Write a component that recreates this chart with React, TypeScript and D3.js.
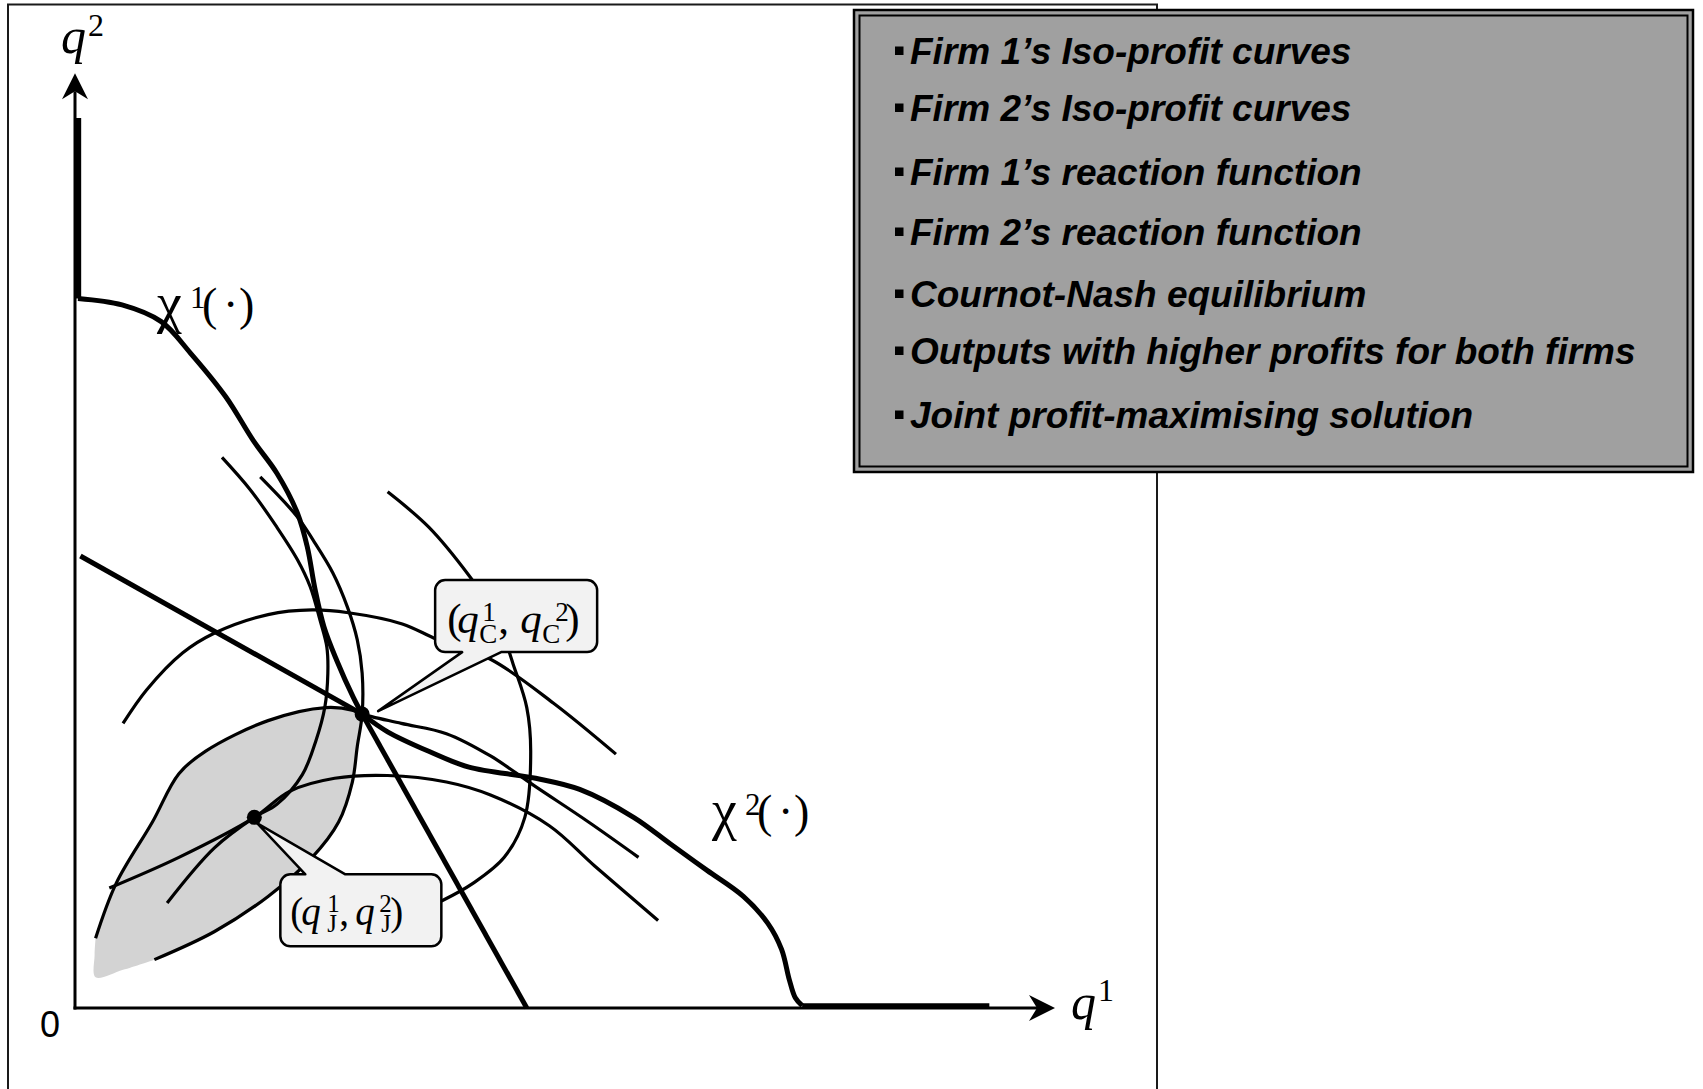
import React from 'react';
import * as d3 from 'd3';

type Pt = [number, number];

// Output space: q1 (horizontal) and q2 (vertical), both on a 0–100 scale.
const reaction1Axis: Pt[] = [[0.35, 95.7], [0.35, 76.3]];
const reaction1Curve: Pt[] = [
  [0.3, 76.3], [4.8, 75.6], [8.8, 73.8], [11.8, 70.4], [15.4, 65.7], [18.2, 61.0],
  [20.6, 57.5], [22.7, 53.2], [23.7, 49.6], [24.5, 45.0], [25.4, 41.0], [26.7, 37.4],
  [28.4, 33.4], [29.3, 31.6],
];
const reaction1Line: Pt[] = [[29.3, 31.6], [46.1, 0]];

const reaction2Line: Pt[] = [[0.55, 48.6], [29.3, 31.6]];
const reaction2Curve: Pt[] = [
  [29.3, 31.6], [31.9, 29.7], [36.1, 27.6], [40.2, 25.9], [47.0, 24.7], [51.5, 23.5],
  [57.0, 20.5], [60.8, 17.6], [64.5, 14.8], [68.2, 12.0], [70.7, 9.1], [72.1, 6.3],
  [72.9, 3.0], [73.5, 1.1], [74.2, 0.25],
];
const reaction2Axis: Pt[] = [[74.2, 0.25], [93.3, 0.25]];

// Firm 1's iso-profit curves (hump shaped)
const firm1IsoLow: Pt[] = [
  [4.9, 30.6], [7.3, 34.2], [11.0, 38.2], [14.2, 40.3], [19.7, 42.3], [24.2, 42.8],
  [27.9, 42.5], [33.4, 41.3], [37.0, 39.6], [42.4, 37.5], [48.8, 32.8], [55.2, 27.3],
];
const firm1IsoC: Pt[] = [
  [2.1, 7.5], [4.2, 13.4], [7.9, 20.0], [10.6, 25.2], [13.3, 27.6], [19.7, 30.9],
  [25.6, 32.3], [28.4, 32.0], [29.3, 31.6], [33.3, 30.6], [37.9, 29.5], [42.4, 27.1],
  [47.0, 23.8], [52.4, 20.0], [57.5, 16.2],
];
const firm1IsoJ: Pt[] = [
  [3.5, 12.9], [10.6, 16.2], [18.3, 20.5], [21.9, 23.3], [26.5, 24.7], [31.9, 25.0],
  [37.9, 24.3], [42.4, 22.9], [48.4, 19.6], [53.0, 15.3], [59.5, 9.4],
];

// Firm 2's iso-profit curves (C shaped)
const firm2IsoLow: Pt[] = [
  [31.9, 55.5], [36.1, 51.7], [40.2, 46.5], [42.9, 42.3], [44.7, 37.0], [46.1, 32.3],
  [46.5, 27.6], [45.9, 20.5], [43.8, 16.2], [40.6, 13.4], [37.4, 11.5],
];
const firm2IsoC: Pt[] = [
  [18.9, 57.1], [22.7, 52.8], [24.3, 50.3], [26.3, 46.8], [27.8, 43.1], [28.8, 39.6],
  [29.3, 36.0], [29.3, 31.6], [28.8, 28.1], [28.3, 24.3], [26.9, 20.0], [24.2, 16.2],
  [19.7, 12.0], [14.2, 8.2], [8.1, 5.2],
];
const firm2IsoJ: Pt[] = [
  [15.0, 59.2], [17.9, 55.7], [20.6, 51.7], [22.7, 48.2], [24.0, 45.3], [25.0, 41.7],
  [25.7, 38.8], [25.8, 36.0], [25.5, 32.4], [24.6, 28.8], [23.2, 25.1], [20.6, 21.9],
  [18.3, 20.5], [14.2, 17.2], [9.4, 11.3],
];

// Soft lower-left edge of the region of mutually better outputs
const lensCorner: Pt[] = [[2.1, 7.5], [2.0, 5.7], [2.1, 3.3], [4.9, 4.1], [8.1, 5.2]];

const cournot: Pt = [29.3, 31.6];
const joint: Pt = [18.3, 20.5];

const legendItems = [
  'Firm 1\u2019s Iso-profit curves',
  'Firm 2\u2019s Iso-profit curves',
  'Firm 1\u2019s reaction function',
  'Firm 2\u2019s reaction function',
  'Cournot-Nash equilibrium',
  'Outputs with higher profits for both firms',
  'Joint profit-maximising solution',
];
const legendBaselines = [64, 121, 185, 245, 307, 364, 428];

type Glyph = { t: string; dx: number; dy: number; size: number; italic?: boolean };

const labelC: Glyph[] = [
  { t: '(', dx: 12, dy: 53, size: 43 },
  { t: 'q', dx: 22, dy: 53, size: 43, italic: true },
  { t: '1', dx: 47, dy: 41, size: 27 },
  { t: 'C', dx: 44, dy: 63, size: 27 },
  { t: ',', dx: 63, dy: 53, size: 43 },
  { t: 'q', dx: 85, dy: 53, size: 43, italic: true },
  { t: '2', dx: 120, dy: 41, size: 27 },
  { t: 'C', dx: 107, dy: 63, size: 27 },
  { t: ')', dx: 130, dy: 53, size: 43 },
];
const labelJ: Glyph[] = [
  { t: '(', dx: 10, dy: 51, size: 39 },
  { t: 'q', dx: 21, dy: 51, size: 39, italic: true },
  { t: '1', dx: 47, dy: 38, size: 25 },
  { t: 'J', dx: 47, dy: 58, size: 25 },
  { t: ',', dx: 59, dy: 51, size: 39 },
  { t: 'q', dx: 75, dy: 51, size: 39, italic: true },
  { t: '2', dx: 99, dy: 38, size: 25 },
  { t: 'J', dx: 101, dy: 58, size: 25 },
  { t: ')', dx: 110, dy: 51, size: 39 },
];

const SERIF = "'Liberation Serif', 'Times New Roman', serif";
const SANS = "'Liberation Sans', Arial, sans-serif";

function roundedBoxWithPointer(
  x0: number, y0: number, x1: number, y1: number, r: number,
  side: 'top' | 'bottom', b1: number, b2: number, tx: number, ty: number,
) {
  const top = side === 'top'
    ? `H${b1}L${tx},${ty}L${b2},${y0}H${x1 - r}`
    : `H${x1 - r}`;
  const bottom = side === 'bottom'
    ? `H${b2}L${tx},${ty}L${b1},${y1}H${x0 + r}`
    : `H${x0 + r}`;
  return `M${x0 + r},${y0}${top}A${r},${r} 0 0 1 ${x1},${y0 + r}V${y1 - r}` +
    `A${r},${r} 0 0 1 ${x1 - r},${y1}${bottom}A${r},${r} 0 0 1 ${x0},${y1 - r}` +
    `V${y0 + r}A${r},${r} 0 0 1 ${x0 + r},${y0}Z`;
}

function MathText({ glyphs, ox, oy }: { glyphs: Glyph[]; ox: number; oy: number }) {
  return (
    <text fontFamily={SERIF} fill="#000">
      {glyphs.map((g, i) => (
        <tspan key={i} x={ox + g.dx} y={oy + g.dy} fontSize={g.size} fontStyle={g.italic ? 'italic' : 'normal'}>
          {g.t}
        </tspan>
      ))}
    </text>
  );
}

function FnLabel({ x, y, sup }: { x: number; y: number; sup: string }) {
  return (
    <text fontFamily={SERIF} fill="#000">
      <tspan x={x} y={y + 2} fontSize={56}>χ</tspan>
      <tspan x={x + 33} y={y - 12} fontSize={31}>{sup}</tspan>
      <tspan x={x + 45} y={y} fontSize={46}>(</tspan>
      <tspan x={x + 66} y={y} fontSize={46}>{'\u00b7'}</tspan>
      <tspan x={x + 82} y={y} fontSize={46}>)</tspan>
    </text>
  );
}

export default function App() {
  const x = d3.scaleLinear().domain([0, 100]).range([75, 1055]);
  const y = d3.scaleLinear().domain([0, 100]).range([1008, 78]);

  const smooth = d3.line<Pt>().x(d => x(d[0])).y(d => y(d[1])).curve(d3.curveCatmullRom.alpha(0.5));
  const straight = d3.line<Pt>().x(d => x(d[0])).y(d => y(d[1]));

  const iC1 = firm1IsoC.findIndex(p => p[0] === cournot[0] && p[1] === cournot[1]);
  const iC2 = firm2IsoC.findIndex(p => p[0] === cournot[0] && p[1] === cournot[1]);
  const lensParts = [
    smooth(firm1IsoC.slice(0, iC1 + 1).reverse()) as string,
    smooth(lensCorner) as string,
    smooth(firm2IsoC.slice(iC2).reverse()) as string,
  ];
  const lensPath = lensParts.map((p, i) => (i ? p.replace(/^M/, 'L') : p)).join('') + 'Z';

  const ox = x(0), oy = y(0);
  const xTip = x(100), yTip = y(100.5);

  const thin = { fill: 'none', stroke: '#000', strokeWidth: 3.2, strokeLinecap: 'butt' as const };
  const thick = { fill: 'none', stroke: '#000', strokeWidth: 5, strokeLinecap: 'butt' as const, strokeLinejoin: 'round' as const };

  const cx = x(cournot[0]), cy = y(cournot[1]);
  const jx = x(joint[0]), jy = y(joint[1]);

  // callout boxes placed relative to their points
  const cBox = { x0: cx + 73, y0: cy - 134, x1: cx + 235, y1: cy - 62 };
  const jBox = { x0: jx + 26, y0: jy + 57, x1: jx + 187, y1: jy + 129 };

  return (
    <svg width={1703} height={1089} style={{ position: 'absolute', left: 0, top: 0, background: '#fff' }}>
      <rect x={8} y={4.5} width={1149} height={1200} fill="none" stroke="#1a1a1a" strokeWidth={2} />

      <path d={lensPath} fill="#d3d3d3" stroke="none" />

      {/* axes */}
      <g stroke="#000" strokeWidth={3} fill="none">
        <line x1={ox} y1={oy + 1.5} x2={ox} y2={yTip + 18} />
        <line x1={ox - 1.5} y1={oy} x2={xTip - 18} y2={oy} />
      </g>
      <path d={`M${ox},${yTip}L${ox + 13},${yTip + 26}L${ox},${yTip + 18}L${ox - 13},${yTip + 26}Z`} fill="#000" />
      <path d={`M${xTip},${oy}L${xTip - 26},${oy - 13}L${xTip - 18},${oy}L${xTip - 26},${oy + 13}Z`} fill="#000" />

      {/* iso-profit curves */}
      {[firm1IsoLow, firm1IsoC, firm1IsoJ, firm2IsoLow, firm2IsoC, firm2IsoJ].map((c, i) => (
        <path key={i} d={smooth(c) as string} {...thin} />
      ))}

      {/* reaction functions */}
      <path d={straight(reaction1Axis) as string} {...thick} strokeWidth={5.5} />
      <path d={smooth(reaction1Curve) as string} {...thick} />
      <path d={straight(reaction1Line) as string} {...thick} />
      <path d={straight(reaction2Line) as string} {...thick} />
      <path d={smooth(reaction2Curve) as string} {...thick} />
      <path d={straight(reaction2Axis) as string} {...thick} strokeWidth={5} />

      <circle cx={cx} cy={cy} r={7.5} fill="#000" />
      <circle cx={jx} cy={jy} r={7.5} fill="#000" />

      {/* callouts */}
      <path
        d={roundedBoxWithPointer(cBox.x0, cBox.y0, cBox.x1, cBox.y1, 10, 'bottom', cBox.x0 + 27, cBox.x0 + 66, cx + 16, cy - 3)}
        fill="#f2f2f2" stroke="#000" strokeWidth={2.5} strokeLinejoin="round"
      />
      <MathText glyphs={labelC} ox={cBox.x0} oy={cBox.y0} />
      <path
        d={roundedBoxWithPointer(jBox.x0, jBox.y0, jBox.x1, jBox.y1, 10, 'top', jBox.x0 + 25, jBox.x0 + 65, jx + 3, jy + 6)}
        fill="#f2f2f2" stroke="#000" strokeWidth={2.5} strokeLinejoin="round"
      />
      <MathText glyphs={labelJ} ox={jBox.x0} oy={jBox.y0} />

      {/* curve and axis labels */}
      <FnLabel x={157} y={320} sup="1" />
      <FnLabel x={712} y={827} sup="2" />
      <text fontFamily={SERIF} fill="#000">
        <tspan x={1071} y={1019} fontSize={50} fontStyle="italic">q</tspan>
        <tspan x={1098} y={1001} fontSize={32}>1</tspan>
      </text>
      <text fontFamily={SERIF} fill="#000">
        <tspan x={61} y={53} fontSize={50} fontStyle="italic">q</tspan>
        <tspan x={88} y={36} fontSize={32}>2</tspan>
      </text>
      <text x={40} y={1037} fontFamily={SANS} fontSize={36} fill="#000">0</text>

      {/* legend */}
      <rect x={854} y={10} width={839} height={462} fill="#a0a0a0" stroke="#000" strokeWidth={2.5} />
      <rect x={859.5} y={15.5} width={828} height={451} fill="none" stroke="#000" strokeWidth={2} />
      <g fontFamily={SANS} fontSize={37} fontWeight="bold" fontStyle="italic" fill="#000">
        {legendItems.map((t, i) => (
          <g key={t}>
            <rect x={895} y={legendBaselines[i] - 17.5} width={8.5} height={8.5} fill="#000" />
            <text x={910} y={legendBaselines[i]}>{t}</text>
          </g>
        ))}
      </g>
    </svg>
  );
}
